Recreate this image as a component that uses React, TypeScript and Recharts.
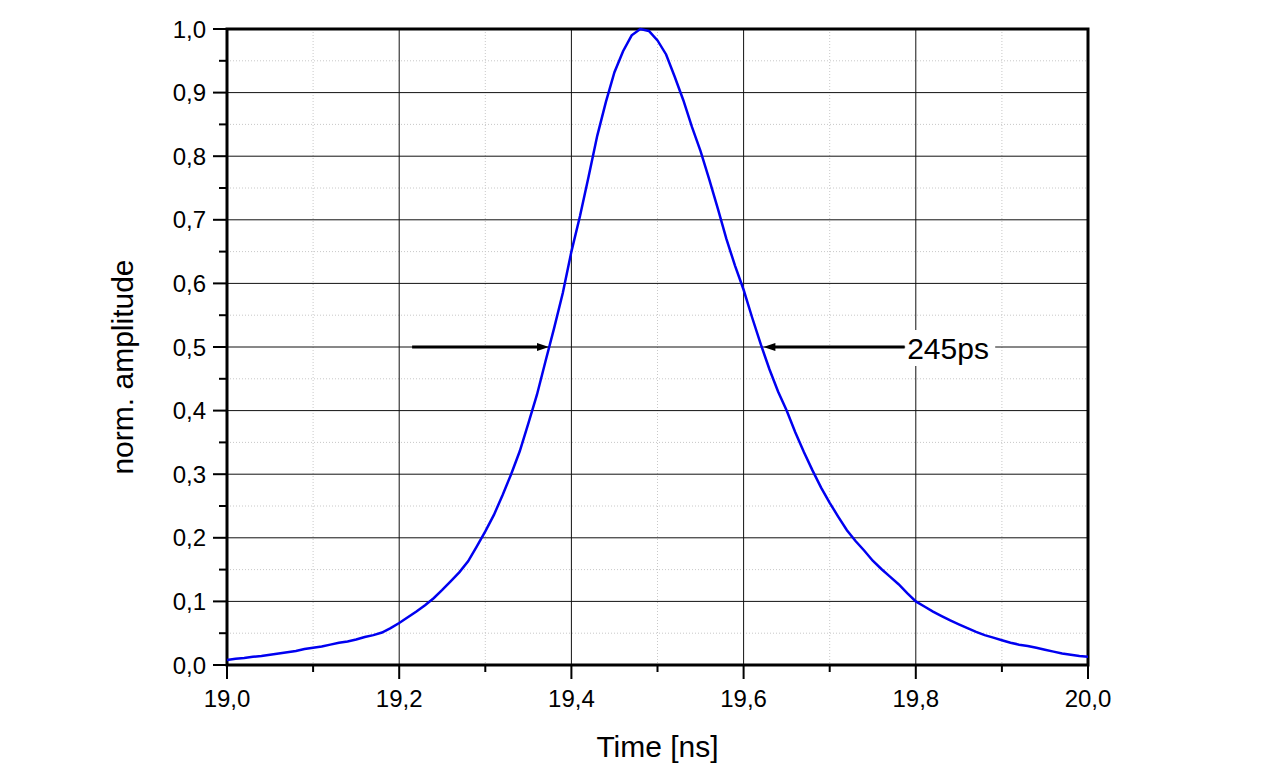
import {
  ComposedChart,
  Line,
  XAxis,
  YAxis,
  CartesianGrid,
  ReferenceArea,
  ReferenceLine,
  ReferenceDot,
  Label,
} from 'recharts';

// sample times [ns], 10 ps step
const times = [
  19.0, 19.01, 19.02, 19.03, 19.04, 19.05, 19.06, 19.07, 19.08, 19.09,
  19.1, 19.11, 19.12, 19.13, 19.14, 19.15, 19.16, 19.17, 19.18, 19.19,
  19.2, 19.21, 19.22, 19.23, 19.24, 19.25, 19.26, 19.27, 19.28, 19.29,
  19.3, 19.31, 19.32, 19.33, 19.34, 19.35, 19.36, 19.37, 19.38, 19.39,
  19.4, 19.41, 19.42, 19.43, 19.44, 19.45, 19.46, 19.47, 19.48, 19.49,
  19.5, 19.51, 19.52, 19.53, 19.54, 19.55, 19.56, 19.57, 19.58, 19.59,
  19.6, 19.61, 19.62, 19.63, 19.64, 19.65, 19.66, 19.67, 19.68, 19.69,
  19.7, 19.71, 19.72, 19.73, 19.74, 19.75, 19.76, 19.77, 19.78, 19.79,
  19.8, 19.81, 19.82, 19.83, 19.84, 19.85, 19.86, 19.87, 19.88, 19.89,
  19.9, 19.91, 19.92, 19.93, 19.94, 19.95, 19.96, 19.97, 19.98, 19.99,
  20.0,
];

// normalised amplitude
const amplitude = [
  0.008, 0.010, 0.011, 0.013, 0.014, 0.016, 0.018, 0.020, 0.022, 0.025,
  0.027, 0.029, 0.032, 0.035, 0.037, 0.040, 0.044, 0.047, 0.051, 0.058,
  0.066, 0.075, 0.084, 0.094, 0.105, 0.118, 0.132, 0.146, 0.163, 0.186,
  0.210, 0.236, 0.267, 0.300, 0.336, 0.380, 0.425, 0.478, 0.530, 0.585,
  0.650, 0.706, 0.768, 0.832, 0.885, 0.932, 0.965, 0.990, 1.000, 0.997,
  0.982, 0.960, 0.925, 0.888, 0.846, 0.808, 0.764, 0.718, 0.670, 0.628,
  0.590, 0.546, 0.504, 0.465, 0.430, 0.400, 0.366, 0.335, 0.306, 0.279,
  0.255, 0.233, 0.212, 0.195, 0.180, 0.164, 0.151, 0.139, 0.127, 0.113,
  0.100, 0.092, 0.084, 0.077, 0.070, 0.064, 0.058, 0.052, 0.047, 0.043,
  0.039, 0.035, 0.032, 0.030, 0.027, 0.024, 0.021, 0.018, 0.016, 0.014,
  0.013,
];

const xTicks = [19.0, 19.1, 19.2, 19.3, 19.4, 19.5, 19.6, 19.7, 19.8, 19.9, 20.0];
const yTicks = [
  0, 0.05, 0.1, 0.15, 0.2, 0.25, 0.3, 0.35, 0.4, 0.45, 0.5,
  0.55, 0.6, 0.65, 0.7, 0.75, 0.8, 0.85, 0.9, 0.95, 1.0,
];

// FWHM annotation
const fwhmLevel = 0.5;
const leftArrow = { from: 19.215, to: 19.374 };
const rightArrow = { from: 19.787, to: 19.623 };
const fwhmText = '245ps';
const fwhmTextAt = 19.79;

const data = times.map((t, i) => ({ t, v: amplitude[i] }));

const FONT = '"Liberation Sans", Arial, sans-serif';

const isMajorX = (v: number) => Math.round(v * 10) % 2 === 0;
const isMajorY = (v: number) => Math.round(v * 100) % 10 === 0;
const fmt = (v: number) => v.toFixed(1).replace('.', ',');

const majorXs = xTicks.filter((v) => isMajorX(v) && v > 19 && v < 20);
const minorXs = xTicks.filter((v) => !isMajorX(v));
const majorYs = yTicks.filter((v) => isMajorY(v) && v > 0 && v < 1);
const minorYs = yTicks.filter((v) => !isMajorY(v));

const XTick = (props: any) => {
  const { x, y, payload } = props;
  const major = isMajorX(payload.value);
  return (
    <g>
      <line x1={x} y1={y} x2={x} y2={y + (major ? 14 : 7)} stroke="#000" strokeWidth={2} />
      {major && (
        <text x={x} y={y + 42} textAnchor="middle" fontSize={24} fontFamily={FONT} fill="#000">
          {fmt(payload.value)}
        </text>
      )}
    </g>
  );
};

const YTick = (props: any) => {
  const { x, y, payload } = props;
  const major = isMajorY(payload.value);
  return (
    <g>
      <line x1={x} y1={y} x2={x - (major ? 14 : 8)} y2={y} stroke="#000" strokeWidth={2} />
      {major && (
        <text x={x - 21} y={y + 8.5} textAnchor="end" fontSize={24} fontFamily={FONT} fill="#000">
          {fmt(payload.value)}
        </text>
      )}
    </g>
  );
};

const Arrow = (p: any) => {
  const { x1, y1, x2, y2 } = p;
  const dir = Math.sign(x2 - x1);
  return (
    <g>
      <line x1={x1} y1={y1} x2={x2 - dir * 8} y2={y2} stroke="#000" strokeWidth={3} />
      <polygon
        points={`${x2},${y2} ${x2 - dir * 12},${y2 - 4} ${x2 - dir * 12},${y2 + 4}`}
        fill="#000"
      />
    </g>
  );
};

const FwhmLabel = (p: any) => {
  const { cx, cy } = p;
  return (
    <g>
      <rect x={cx - 2} y={cy - 17} width={90} height={36} fill="#fff" />
      <text x={cx} y={cy + 12} fontSize={30} fontFamily={FONT} fill="#000">
        {fwhmText}
      </text>
    </g>
  );
};

const XTitle = (p: any) => {
  const vb = p.viewBox;
  return (
    <text x={vb.x + vb.width / 2} y={vb.y + 92} textAnchor="middle" fontSize={30} fontFamily={FONT} fill="#000">
      Time [ns]
    </text>
  );
};

const YTitle = (p: any) => {
  const vb = p.viewBox;
  const cx = vb.x + 114;
  const cy = vb.y + vb.height / 2 + 20;
  return (
    <text
      x={cx}
      y={cy}
      transform={`rotate(-90 ${cx} ${cy})`}
      textAnchor="middle"
      dominantBaseline="central"
      fontSize={30}
      fontFamily={FONT}
      fill="#000"
    >
      norm. amplitude
    </text>
  );
};

export default function App() {
  return (
    <div style={{ width: 1250, height: 762, background: '#fff' }}>
      <ComposedChart
        width={1250}
        height={762}
        data={data}
        margin={{ top: 21, right: 170, bottom: 8, left: 0 }}
      >
        <CartesianGrid
          stroke="#c8c8c8"
          strokeDasharray="1 2"
          horizontalValues={minorYs}
          verticalValues={minorXs}
        />
        <CartesianGrid stroke="#111" horizontalValues={majorYs} verticalValues={majorXs} />
        <XAxis
          dataKey="t"
          type="number"
          domain={[19, 20]}
          ticks={xTicks}
          interval={0}
          height={97}
          axisLine={false}
          tickLine={false}
          tickSize={0}
          tickMargin={0}
          tick={XTick}
        >
          <Label content={XTitle} />
        </XAxis>
        <YAxis
          type="number"
          domain={[0, 1]}
          ticks={yTicks}
          interval={0}
          width={219}
          axisLine={false}
          tickLine={false}
          tickSize={0}
          tickMargin={0}
          tick={YTick}
        >
          <Label content={YTitle} />
        </YAxis>
        <Line
          dataKey="v"
          type="linear"
          stroke="#0000f0"
          strokeWidth={2.5}
          dot={false}
          isAnimationActive={false}
        />
        <ReferenceLine
          segment={[
            { x: leftArrow.from, y: fwhmLevel },
            { x: leftArrow.to, y: fwhmLevel },
          ]}
          shape={Arrow}
        />
        <ReferenceLine
          segment={[
            { x: rightArrow.from, y: fwhmLevel },
            { x: rightArrow.to, y: fwhmLevel },
          ]}
          shape={Arrow}
        />
        <ReferenceDot x={fwhmTextAt} y={fwhmLevel} r={0} shape={FwhmLabel} />
        <ReferenceArea x1={19} x2={20} y1={0} y2={1} fill="none" stroke="#000" strokeWidth={3} />
      </ComposedChart>
    </div>
  );
}
